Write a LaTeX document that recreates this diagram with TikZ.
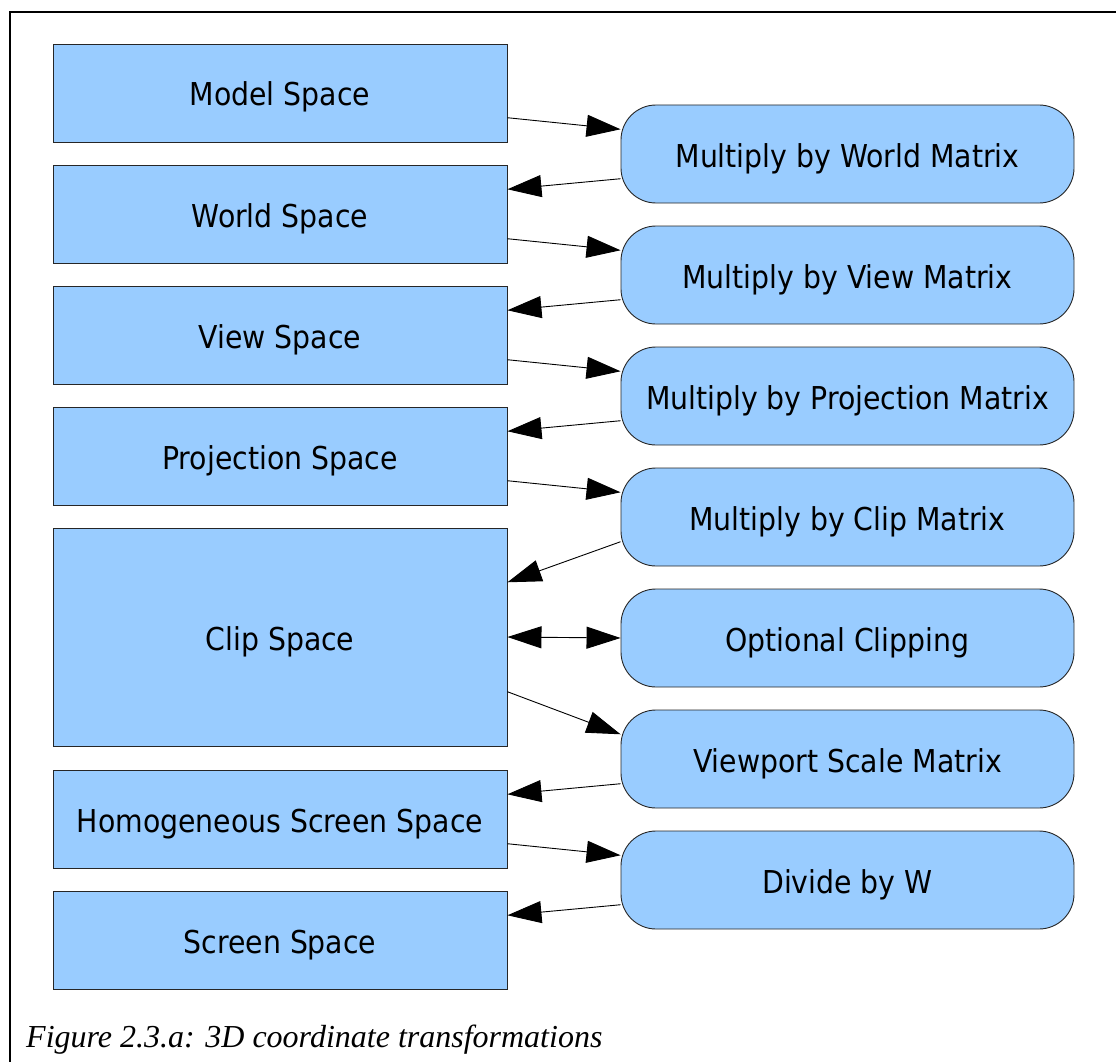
\documentclass[tikz,border=0pt]{standalone}
\usepackage{fontspec}
\setmainfont{Liberation Serif}
\newfontfamily\boxfont{DejaVu Sans Condensed}
\usetikzlibrary{arrows.meta,calc}
\definecolor{boxblue}{HTML}{99CCFF}
\begin{document}
\begin{tikzpicture}[x=1pt,y=-1pt,
  basebox/.style={draw=black!85,line width=0.9pt,fill=boxblue,minimum width=454pt,minimum height=98pt,inner sep=0pt,text height=26pt,text depth=0pt,font=\boxfont\fontsize{31.5}{36}\selectfont},
  spacebox/.style={basebox},
  opbox/.style={basebox,rounded corners=35pt,minimum width=453pt},
  arr/.style={line width=0.9pt,-{Triangle[length=34pt,width=22pt]}},
  biarr/.style={line width=0.9pt,{Triangle[length=34pt,width=22pt]}-{Triangle[length=34pt,width=22pt]}}]
\useasboundingbox (0,0) rectangle (1116,1062);
\draw[line width=1.5pt] (10,1062) -- (10,12) -- (1116,12);
% left column
\node[spacebox] (model) at (280,93) {Model Space};
\node[spacebox] (world) at (280,214) {World Space};
\node[spacebox] (view) at (280,335) {View Space};
\node[spacebox] (proj) at (280,456) {Projection Space};
\node[spacebox,minimum height=218pt] (clip) at (280,637) {Clip Space};
\node[spacebox] (homog) at (280,819) {Homogeneous Screen Space};
\node[spacebox] (screen) at (280,940) {Screen Space};
% right column
\node[opbox] (mw) at (847.5,154) {Multiply by World Matrix};
\node[opbox] (mv) at (847.5,275) {Multiply by View Matrix};
\node[opbox] (mp) at (847.5,396) {Multiply by Projection Matrix};
\node[opbox] (mc) at (847.5,517) {Multiply by Clip Matrix};
\node[opbox] (oc) at (847.5,638) {Optional Clipping};
\node[opbox] (vs) at (847.5,759) {Viewport Scale Matrix};
\node[opbox] (dw) at (847.5,880) {Divide by W};
% connectors
\draw[arr] ($(model.north east)!0.75!(model.south east)$) -- ($(mw.north west)!0.25!(mw.south west)$);
\draw[arr] ($(mw.north west)!0.75!(mw.south west)$) -- ($(world.north east)!0.25!(world.south east)$);
\draw[arr] ($(world.north east)!0.75!(world.south east)$) -- ($(mv.north west)!0.25!(mv.south west)$);
\draw[arr] ($(mv.north west)!0.75!(mv.south west)$) -- ($(view.north east)!0.25!(view.south east)$);
\draw[arr] ($(view.north east)!0.75!(view.south east)$) -- ($(mp.north west)!0.25!(mp.south west)$);
\draw[arr] ($(mp.north west)!0.75!(mp.south west)$) -- ($(proj.north east)!0.25!(proj.south east)$);
\draw[arr] ($(proj.north east)!0.75!(proj.south east)$) -- ($(mc.north west)!0.25!(mc.south west)$);
\draw[arr] ($(mc.north west)!0.75!(mc.south west)$) -- ($(clip.north east)!0.25!(clip.south east)$);
\draw[biarr] (clip.east) -- (oc.west);
\draw[arr] ($(clip.north east)!0.75!(clip.south east)$) -- ($(vs.north west)!0.25!(vs.south west)$);
\draw[arr] ($(vs.north west)!0.75!(vs.south west)$) -- ($(homog.north east)!0.25!(homog.south east)$);
\draw[arr] ($(homog.north east)!0.75!(homog.south east)$) -- ($(dw.north west)!0.25!(dw.south west)$);
\draw[arr] ($(dw.north west)!0.75!(dw.south west)$) -- ($(screen.north east)!0.25!(screen.south east)$);
% caption
\node[anchor=base west,inner sep=0pt,font=\itshape\fontsize{32}{38}\selectfont] (cap) at (26,1047) {Figure 2.3.a: 3D coordinate transformations};
\end{tikzpicture}
\end{document}
